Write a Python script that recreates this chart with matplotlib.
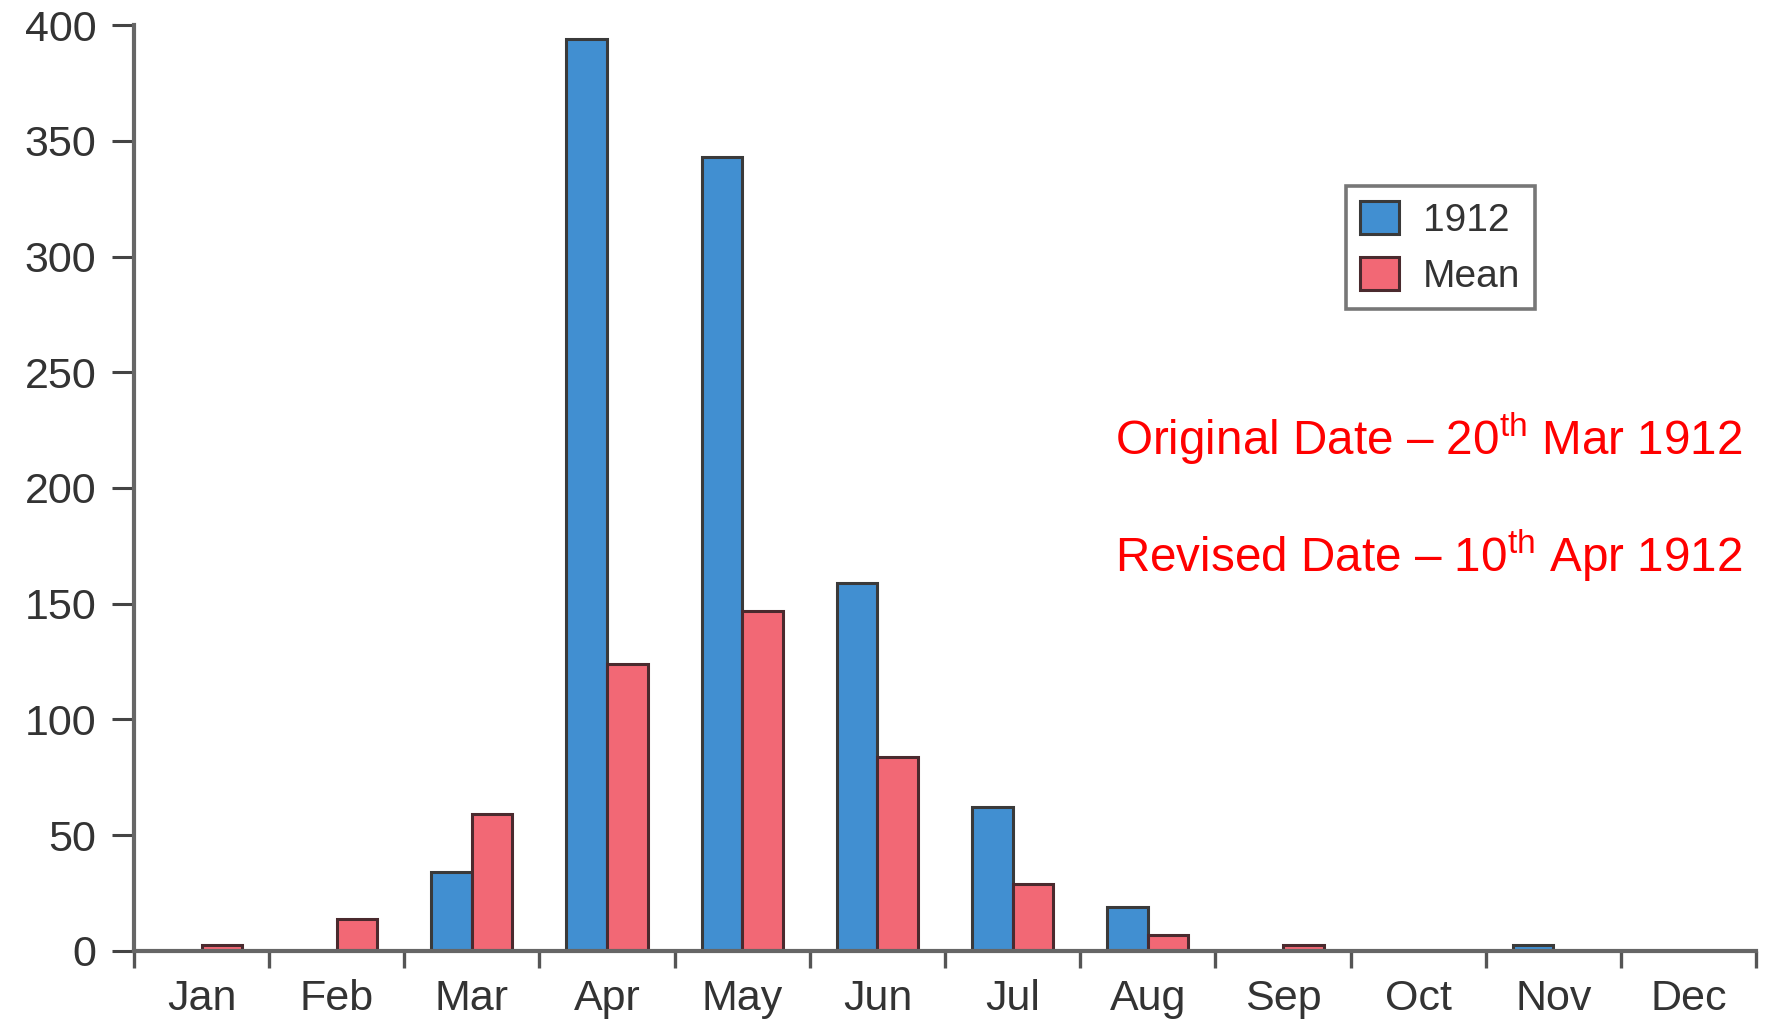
import matplotlib
matplotlib.use("Agg")
import matplotlib.pyplot as plt
import numpy as np
from matplotlib.ticker import FixedLocator, NullFormatter

months = ["Jan", "Feb", "Mar", "Apr", "May", "Jun", "Jul", "Aug", "Sep", "Oct", "Nov", "Dec"]
vals_1912 = [0, 0, 34, 394, 343, 159, 62, 19, 0, 0, 2.5, 0]
vals_mean = [2.4, 14, 59, 124, 147, 84, 29, 7, 2.5, 0, 0, 0]
yticks = [0, 50, 100, 150, 200, 250, 300, 350, 400]
note_lines = [r"Original Date – 20$^{\mathrm{th}}$ Mar 1912",
              r"Revised Date – 10$^{\mathrm{th}}$ Apr 1912"]

plt.rcParams['font.family'] = ['Liberation Sans', 'DejaVu Sans']
plt.rcParams['mathtext.fontset'] = 'custom'
plt.rcParams['mathtext.rm'] = 'Liberation Sans'
plt.rcParams['mathtext.it'] = 'Liberation Sans:italic'
plt.rcParams['mathtext.bf'] = 'Liberation Sans:bold'

fig = plt.figure(figsize=(17.69, 10.21), dpi=100)
ax = fig.add_axes([0.0757, 0.0686, 0.9927 - 0.0757, 0.9755 - 0.0686])

x = np.arange(len(months))
w = 0.3
blue = "#418FD1"
red = "#F26875"
ax.bar(x - w / 2, vals_1912, width=w, color=blue, edgecolor="#3a3a3a", linewidth=2.2, label="1912", zorder=3)
ax.bar(x + w / 2, vals_mean, width=w, color=red, edgecolor="#4a2a2e", linewidth=2.2, label="Mean", zorder=3)

ax.set_xlim(-0.5, 11.5)
ax.set_ylim(0, 400)

axis_col = "#666666"
for s in ["top", "right"]:
    ax.spines[s].set_visible(False)
for s in ["left", "bottom"]:
    ax.spines[s].set_color(axis_col)
    ax.spines[s].set_linewidth(3.0)
    ax.spines[s].set_zorder(4)

ax.set_yticks(yticks)
ax.tick_params(axis="y", direction="out", length=16, width=2.2, color="#444444",
               labelsize=31, labelcolor="#333333", pad=11)

ax.set_xticks(x)
ax.set_xticklabels(months)
ax.tick_params(axis="x", which="major", length=0, labelsize=31, labelcolor="#333333", pad=20)
ax.xaxis.set_minor_locator(FixedLocator(np.arange(-0.5, 12.0, 1.0)))
ax.xaxis.set_minor_formatter(NullFormatter())
ax.tick_params(axis="x", which="minor", direction="out", length=12, width=2.4, color="#555555")

leg = ax.legend(loc="upper left", bbox_to_anchor=(0.747, 0.826), fontsize=28,
                frameon=True, fancybox=False, handlelength=1.0, handleheight=0.95,
                handletextpad=0.6, labelspacing=0.45, borderpad=0.38, borderaxespad=0,
                labelcolor="#333333")
leg.get_frame().set_edgecolor("#555555")
leg.get_frame().set_linewidth(2.6)

ax.text(0.605, 0.536, note_lines[0], transform=ax.transAxes, color="#FF0000",
        fontsize=34.3, ha="left", va="baseline")
ax.text(0.605, 0.409, note_lines[1], transform=ax.transAxes, color="#FF0000",
        fontsize=34.3, ha="left", va="baseline")

fig.savefig("out.png", dpi=100, facecolor="white")
